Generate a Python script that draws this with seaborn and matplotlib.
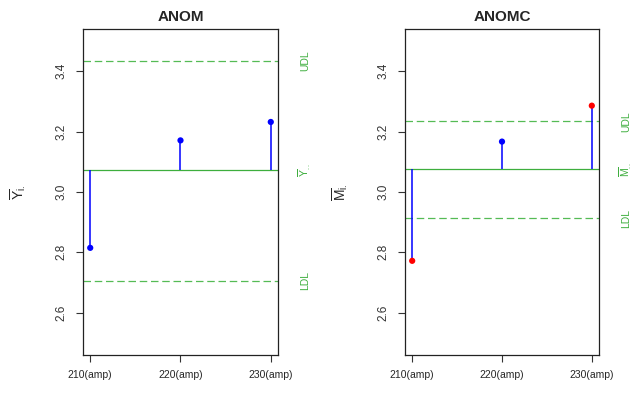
import matplotlib
matplotlib.use("Agg")
import matplotlib.pyplot as plt
import matplotlib.transforms as mtransforms
import seaborn as sns
import pandas as pd

# ---- data ----
categories = ["210(amp)", "220(amp)", "230(amp)"]
anom_means = [2.815, 3.171, 3.232]
anom_center = 3.073
anom_udl = 3.434
anom_ldl = 2.706

anomc_means = [2.772, 3.167, 3.286]
anomc_center = 3.075
anomc_udl = 3.234
anomc_ldl = 2.913

yticks = [2.6, 2.8, 3.0, 3.2, 3.4]

sns.set_style("white")
plt.rcParams['font.family'] = ['Liberation Sans', 'DejaVu Sans']
plt.rcParams['mathtext.fontset'] = 'custom'
plt.rcParams['mathtext.rm'] = 'Liberation Sans'
plt.rcParams['mathtext.it'] = 'Liberation Sans'

GREEN = "#3dae3d"
GREEN_D = "#55bb55"
BLUE = "#0000ff"

fig = plt.figure(figsize=(6.43, 3.93), dpi=100)
ax1 = fig.add_axes([83/643, 38/393, 195/643, 326/393])
ax2 = fig.add_axes([405/643, 38/393, 194/643, 326/393])


def panel(ax, title, means, center, udl, ldl, ylab, clab):
    xs = list(range(1, len(categories) + 1))
    status = ["out" if (m > udl or m < ldl) else "in" for m in means]
    df = pd.DataFrame({"x": xs, "y": means, "status": status})
    ax.vlines(df["x"], center, df["y"], color=BLUE, lw=1.1, zorder=2)
    sns.scatterplot(data=df, x="x", y="y", hue="status",
                    palette={"in": BLUE, "out": "#ff0000"},
                    s=20, edgecolor=None, linewidth=0, legend=False, ax=ax, zorder=3)
    ax.axhline(center, color=GREEN, lw=0.9, zorder=1)
    ax.axhline(udl, color=GREEN_D, lw=0.9, ls=(0, (6, 3)), zorder=1)
    ax.axhline(ldl, color=GREEN_D, lw=0.9, ls=(0, (6, 3)), zorder=1)
    ax.set_xlim(0.92, 3.08)
    ax.set_ylim(2.46, 3.54)
    ax.set_xticks(xs)
    ax.set_xticklabels(categories, fontsize=7.5)
    ax.set_yticks(yticks)
    ax.set_yticklabels([f"{t:.1f}" for t in yticks], fontsize=8.5, rotation=90,
                       va='center', color="#333333")
    ax.tick_params(axis='both', which='both', length=5, width=0.8, color="#333333",
                   left=True, bottom=True, pad=6)
    ax.set_xlabel("")
    ax.set_ylabel("")
    for sp in ax.spines.values():
        sp.set_color("#222222")
        sp.set_linewidth(0.9)
    ax.set_title(title, fontsize=11, fontweight='bold', pad=6)
    ax.text(-0.335, 0.5, ylab, transform=ax.transAxes, rotation=90,
            ha='center', va='center', fontsize=10)
    trans = mtransforms.blended_transform_factory(ax.transAxes, ax.transData)
    for yv, lab in [(udl, "UDL"), (center, clab), (ldl, "LDL")]:
        ax.text(1.14, yv, lab, transform=trans, rotation=90, ha='center',
                va='center', fontsize=7.5, color=GREEN)


panel(ax1, "ANOM", anom_means, anom_center, anom_udl, anom_ldl,
      r"$\overline{\mathrm{Y}}_{\mathrm{i.}}$", r"$\overline{\mathrm{Y}}_{\mathrm{..}}$")
panel(ax2, "ANOMC", anomc_means, anomc_center, anomc_udl, anomc_ldl,
      r"$\overline{\mathrm{M}}_{\mathrm{i.}}$", r"$\overline{\mathrm{M}}_{\mathrm{..}}$")

fig.savefig("out.png", dpi=100)
